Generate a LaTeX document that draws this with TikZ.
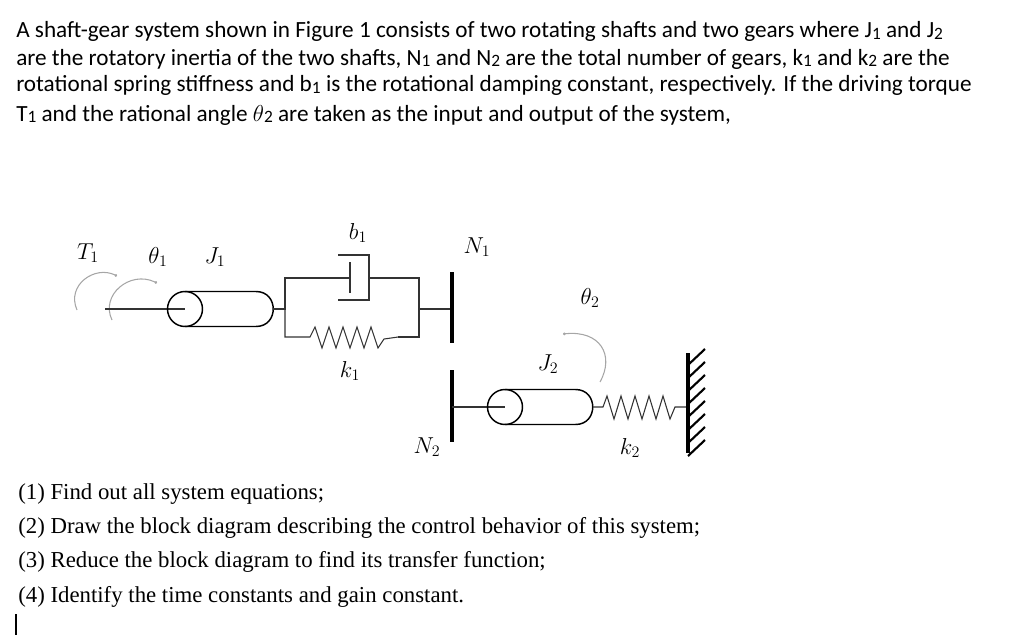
\documentclass[tikz,border=0pt]{standalone}
\usepackage{fontspec}
\setmainfont{Liberation Serif}
\newfontfamily\carl{Carlito}
\usetikzlibrary{arrows.meta}
\newcommand{\sbs}[1]{\raisebox{-0.15ex}{\fontsize{13pt}{13pt}\selectfont #1}}
\begin{document}
\begin{tikzpicture}[x=0.75pt,y=-0.75pt,
  ptxt/.style={anchor=base west,inner sep=0,font=\carl\fontsize{17.4pt}{19pt}\selectfont},
  qtxt/.style={anchor=base west,inner sep=0,font=\fontsize{17.1pt}{19pt}\selectfont},
  lab/.style={inner sep=0,font=\fontsize{17pt}{19pt}\selectfont},
  mech/.style={line width=1.1pt},
  thin/.style={line width=0.8pt,black!80},
  gear/.style={line width=2.4pt},
  rot/.style={gray!70,line width=0.8pt,-{Circle[length=2pt]}}]
\useasboundingbox (0,0) rectangle (1024,642);
% paragraph
\node[ptxt] (p1) at (16,38) {A shaft-gear system shown in Figure 1 consists of two rotating shafts and two gears where J\sbs{1} and J\sbs{2}};
\node[ptxt] (p2) at (16,65) {are the rotatory inertia of the two shafts, N\sbs{1} and N\sbs{2} are the total number of gears, k\sbs{1} and k\sbs{2} are the};
\node[ptxt] (p3) at (16,92) {rotational spring stiffness and b\sbs{1} is the rotational damping constant, respectively. If the driving torque};
\node[ptxt] (p4) at (16,121) {T\sbs{1} and the rational angle $\theta$\sbs{2} are taken as the input and output of the system,};
% labels
\node[lab] (lT1) at (88,253) {$T_1$};
\node[lab] (lth1) at (158,257) {$\theta_1$};
\node[lab] (lJ1) at (215,257) {$J_1$};
\node[lab] (lb1) at (358,233) {$b_1$};
\node[lab] (lk1) at (350,371) {$k_1$};
\node[lab] (lN1) at (477,247) {$N_1$};
\node[lab] (lth2) at (590,298) {$\theta_2$};
\node[lab] (lJ2) at (548,364) {$J_2$};
\node[lab] (lN2) at (427,447) {$N_2$};
\node[lab] (lk2) at (630,448) {$k_2$};
% rotation arrows
\draw[rot] (77,310) .. controls (66,285) and (95,265) .. (117,276);
\draw[rot] (112,320) .. controls (100,295) and (130,270) .. (157,283);
\draw[rot] (600,382) .. controls (615,355) and (600,330) .. (563,334);
% shaft 1
\coordinate (s1a) at (105,309);
\coordinate (c1) at (185,309);
\draw[thin] (s1a) -- (c1);
\draw[mech] (185,291.5) -- (256,291.5) .. controls (279,291.5) and (279,326.5) .. (256,326.5) -- (185,326.5);
\draw[mech] (c1) circle (17.5);
% coupling
\draw[thin] (272.5,309) -- (285,309) -- (285,278) -- (350,278);
\draw[thin] (350,262) -- (350,293);
\draw[thin] (338,255) -- (369,255) -- (369,300) -- (338,300);
\draw[thin] (369,278) -- (419,278) -- (419,337) -- (398,337);
\draw[thin] (285,309) -- (285,337) -- (310,337) -- (315,327) -- (322,348) -- (329,327) -- (336,348) -- (343,327) -- (350,348) -- (357,327) -- (364,348) -- (371,327) -- (378,348) -- (384,339) -- (398,337);
\draw[thin] (419,309) -- (452,309);
\draw[gear] (452,272) -- (452,343);
\draw[gear] (452,370) -- (452,442);
% shaft 2
\draw[thin] (452,407) -- (505,407);
\draw[mech] (505,389.5) -- (575.5,389.5) .. controls (598.5,389.5) and (598.5,424.5) .. (575.5,424.5) -- (505,424.5);
\draw[mech] (505,407) circle (17.5);
\draw[thin] (593,407) -- (603,407) -- (607,396) -- (614,419) -- (621,396) -- (628,419) -- (635,396) -- (642,419) -- (649,396) -- (656,419) -- (663,396) -- (670,419) -- (675,407) -- (688,407);
\draw[gear] (688,353) -- (688,453);
\foreach \y in {365,378,391,404,417,430,443,456}
  \draw[line width=1.6pt] (688,\y) -- (705,\y-16);
% questions
\node[qtxt] (q1) at (18,499) {(1) Find out all system equations;};
\node[qtxt] (q2) at (18,533) {(2) Draw the block diagram describing the control behavior of this system;};
\node[qtxt] (q3) at (18,567) {(3) Reduce the block diagram to find its transfer function;};
\node[qtxt] (q4) at (18,602) {(4) Identify the time constants and gain constant.};
\draw[line width=0.9pt] (16,614) -- (16,635);
\end{tikzpicture}
\end{document}
